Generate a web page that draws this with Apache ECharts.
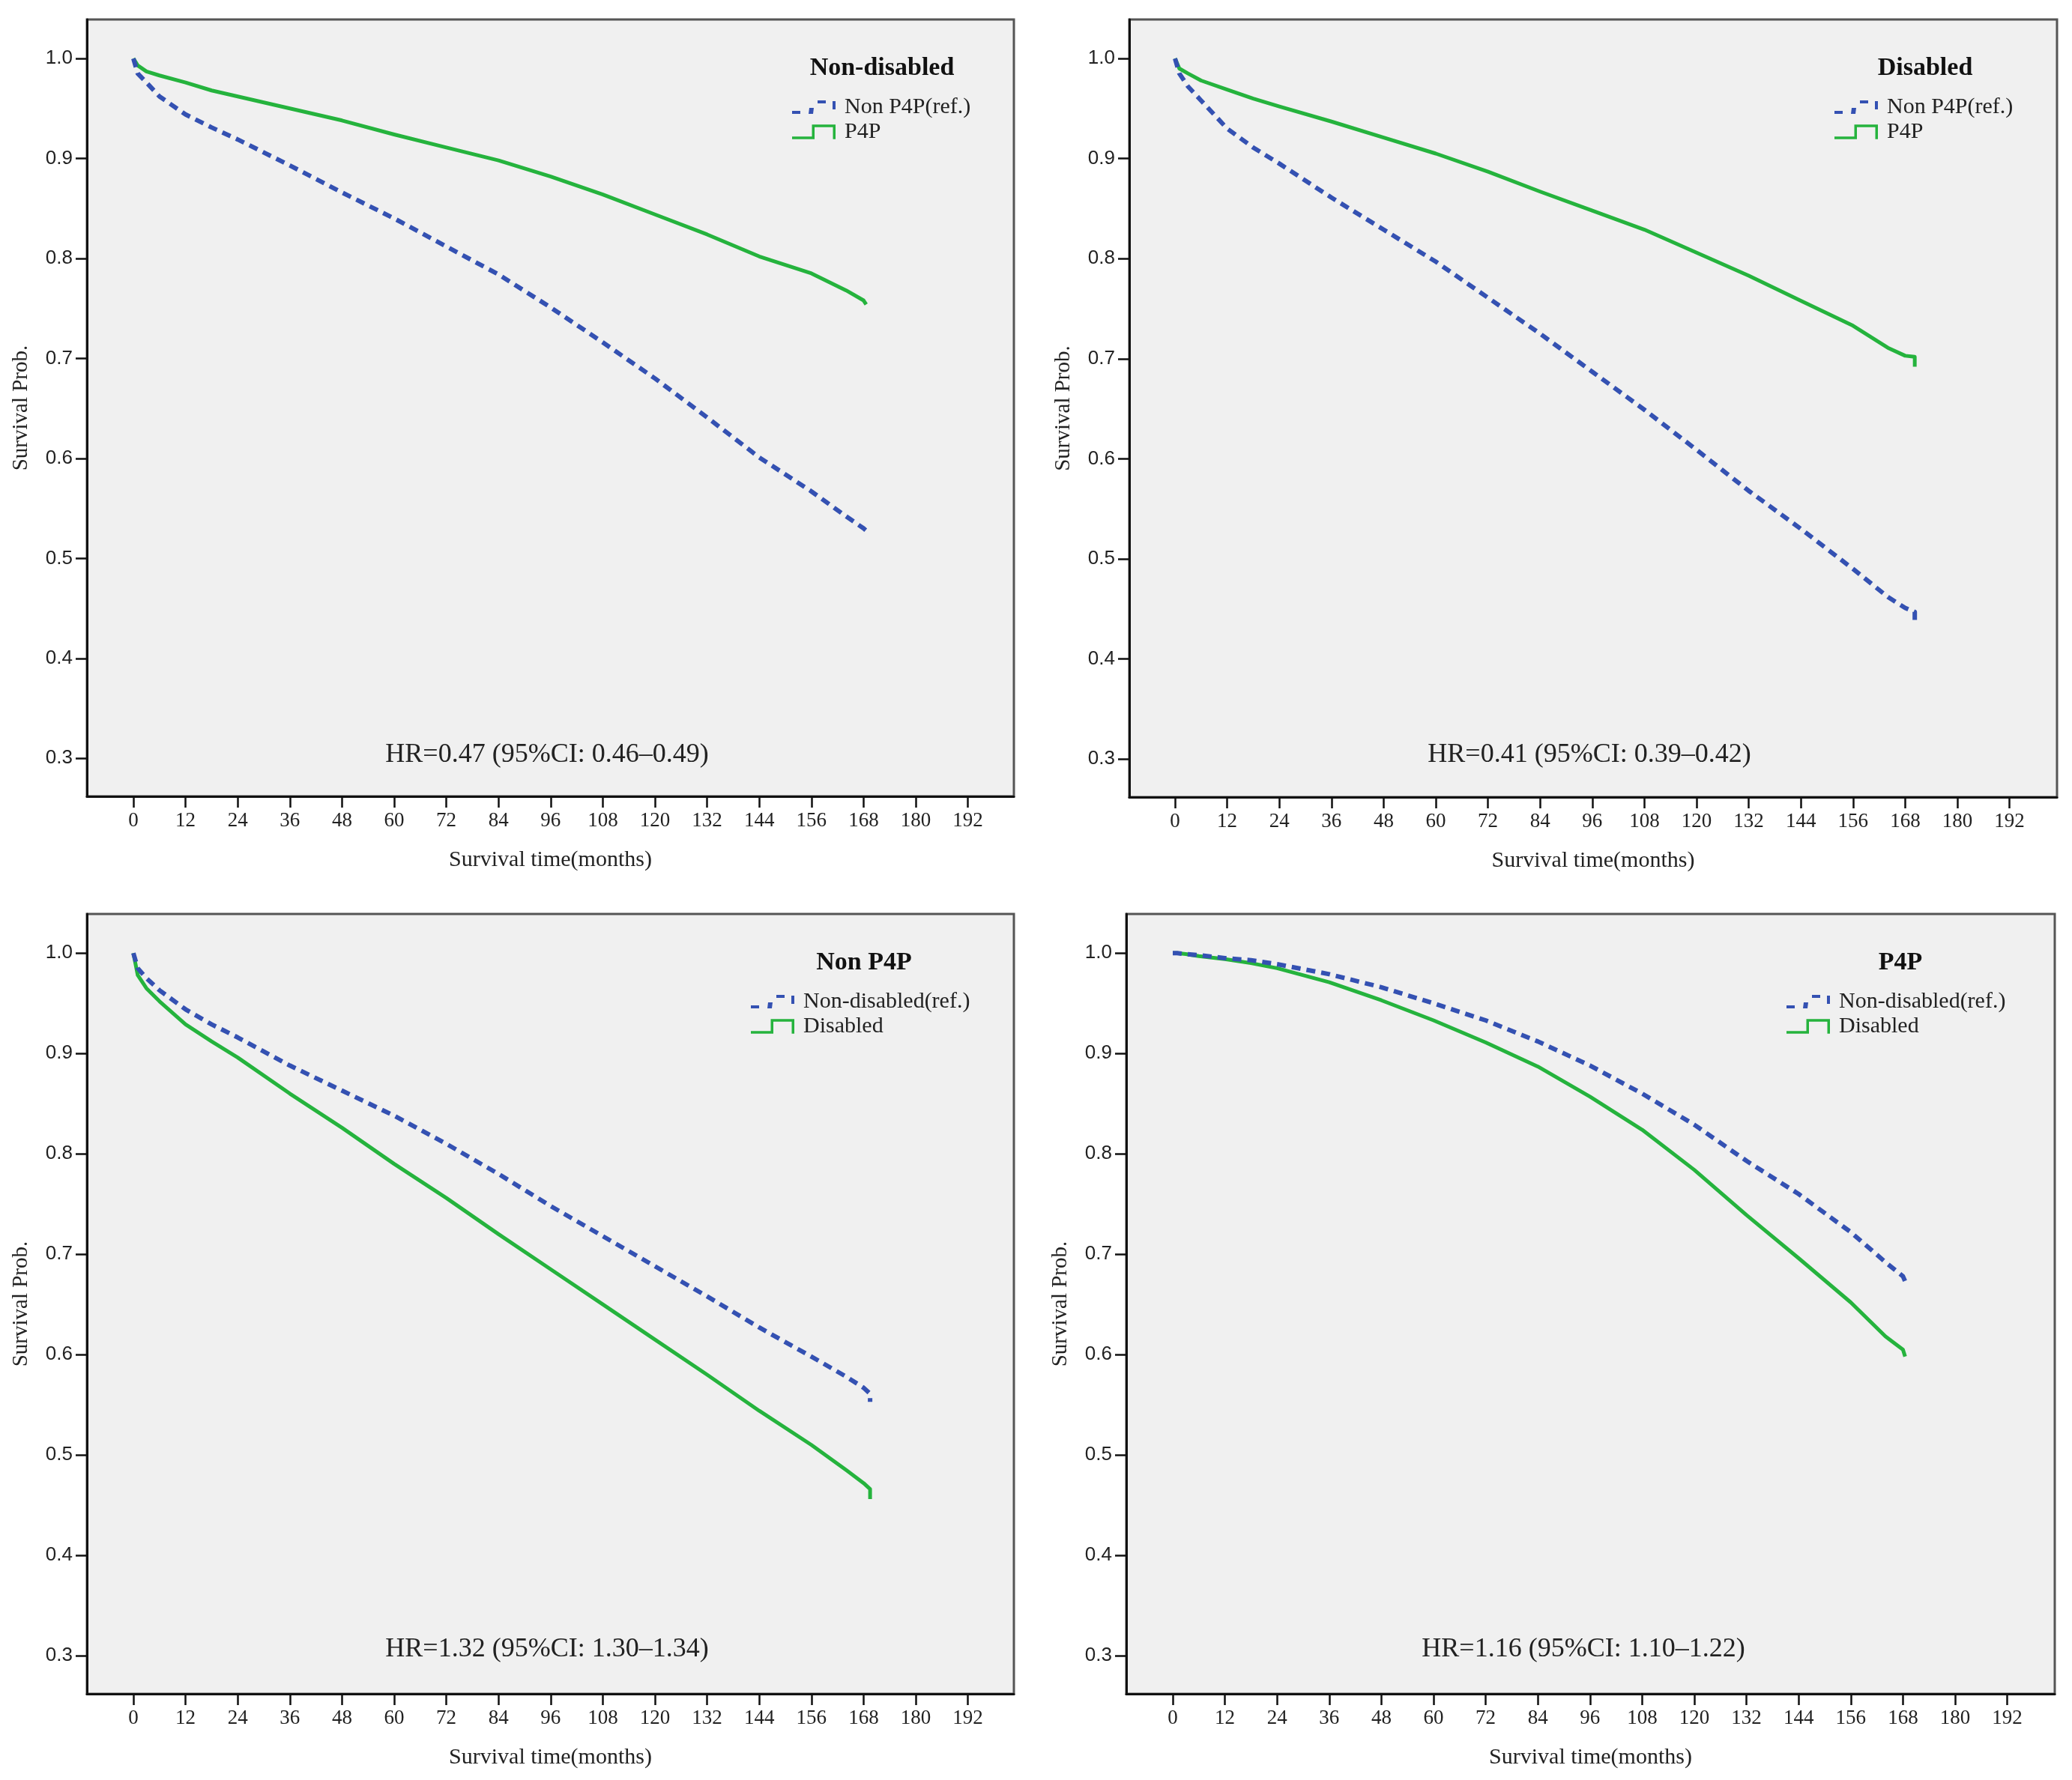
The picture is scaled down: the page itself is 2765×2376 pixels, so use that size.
<!DOCTYPE html>
<html>
<head>
<meta charset="utf-8">
<script src="https://cdn.jsdelivr.net/npm/echarts@6/dist/echarts.min.js"></script>
<style>
html,body{margin:0;padding:0;background:#fff;}
#chart{width:2765px;height:2376px;}
</style>
</head>
<body>
<div id="chart"></div>
<script>
// ---------- data ----------
const months = [0, 1, 3, 6, 12, 18, 24, 36, 48, 60, 72, 84, 96, 108, 120, 132, 144, 156, 164, 168];
const xTicks = [0, 12, 24, 36, 48, 60, 72, 84, 96, 108, 120, 132, 144, 156, 168, 180, 192];
const yTicks = [0.3, 0.4, 0.5, 0.6, 0.7, 0.8, 0.9, 1.0];

// Panel 1: Non-disabled
const nd_nonP4P = [1.0, 0.985, 0.976, 0.962, 0.944, 0.931, 0.919, 0.893, 0.866, 0.840, 0.812, 0.784, 0.751, 0.716, 0.680, 0.641, 0.601, 0.567, 0.542, 0.530];
const nd_nonP4P_tailM = [168.8];
const nd_nonP4P_tailV = [0.527];
const nd_P4P = [1.0, 0.993, 0.987, 0.983, 0.976, 0.968, 0.962, 0.950, 0.938, 0.924, 0.911, 0.898, 0.882, 0.864, 0.844, 0.824, 0.802, 0.785, 0.768, 0.758];
const nd_P4P_tailM = [168.6];
const nd_P4P_tailV = [0.754];

// Panel 2: Disabled
const d_nonP4P = [1.0, 0.985, 0.972, 0.958, 0.930, 0.911, 0.895, 0.861, 0.829, 0.797, 0.761, 0.725, 0.687, 0.649, 0.609, 0.568, 0.530, 0.490, 0.462, 0.451];
const d_nonP4P_tailM = [170.2, 170.2];
const d_nonP4P_tailV = [0.447, 0.435];
const d_P4P = [1.0, 0.990, 0.985, 0.978, 0.969, 0.960, 0.952, 0.937, 0.921, 0.905, 0.887, 0.867, 0.848, 0.829, 0.806, 0.783, 0.758, 0.733, 0.711, 0.703];
const d_P4P_tailM = [170.2, 170.2];
const d_P4P_tailV = [0.702, 0.692];

// Panel 3: Non P4P
const np_nonDis = [1.0, 0.985, 0.975, 0.963, 0.944, 0.929, 0.916, 0.888, 0.863, 0.838, 0.810, 0.780, 0.748, 0.718, 0.688, 0.658, 0.627, 0.598, 0.578, 0.567];
const np_nonDis_tailM = [169.5, 169.5];
const np_nonDis_tailV = [0.561, 0.553];
const np_dis = [1.0, 0.978, 0.965, 0.952, 0.929, 0.912, 0.896, 0.860, 0.826, 0.790, 0.756, 0.720, 0.685, 0.650, 0.615, 0.580, 0.544, 0.510, 0.485, 0.472];
const np_dis_tailM = [169.5, 169.5];
const np_dis_tailV = [0.466, 0.456];

// Panel 4: P4P
const p_nonDis = [1.0, 1.0, 0.999, 0.998, 0.995, 0.993, 0.989, 0.979, 0.966, 0.950, 0.933, 0.912, 0.888, 0.860, 0.829, 0.793, 0.760, 0.722, 0.692, 0.678];
const p_nonDis_tailM = [168.5];
const p_nonDis_tailV = [0.673];
const p_dis = [1.0, 1.0, 0.999, 0.997, 0.994, 0.990, 0.985, 0.971, 0.953, 0.933, 0.911, 0.887, 0.857, 0.824, 0.784, 0.739, 0.696, 0.652, 0.618, 0.605];
const p_dis_tailM = [168.5];
const p_dis_tailV = [0.598];

const panelTitles = ['Non-disabled', 'Disabled', 'Non P4P', 'P4P'];
const refNames = ['Non P4P(ref.)', 'Non P4P(ref.)', 'Non-disabled(ref.)', 'Non-disabled(ref.)'];
const cmpNames = ['P4P', 'P4P', 'Disabled', 'Disabled'];
const hrTexts = ['HR=0.47 (95%CI: 0.46\u20130.49)', 'HR=0.41 (95%CI: 0.39\u20130.42)',
                 'HR=1.32 (95%CI: 1.30\u20131.34)', 'HR=1.16 (95%CI: 1.10\u20131.22)'];

// ---------- build ----------
function pairs(vals, tm, tv) {
  const out = months.map((m, i) => [m, vals[i]]);
  tm.forEach((m, i) => out.push([m, tv[i]]));
  return out;
}
const refData = [
  pairs(nd_nonP4P, nd_nonP4P_tailM, nd_nonP4P_tailV),
  pairs(d_nonP4P, d_nonP4P_tailM, d_nonP4P_tailV),
  pairs(np_nonDis, np_nonDis_tailM, np_nonDis_tailV),
  pairs(p_nonDis, p_nonDis_tailM, p_nonDis_tailV)
];
const cmpData = [
  pairs(nd_P4P, nd_P4P_tailM, nd_P4P_tailV),
  pairs(d_P4P, d_P4P_tailM, d_P4P_tailV),
  pairs(np_dis, np_dis_tailM, np_dis_tailV),
  pairs(p_dis, p_dis_tailM, p_dis_tailV)
];

const BLUE = '#3451b2';
const GREEN = '#25b33d';
const SERIF = '"Liberation Serif", "DejaVu Serif", serif';
const SANS = '"Liberation Sans", "DejaVu Sans", sans-serif';

const grids = [
  {left: 116, top: 26, width: 1237, height: 1037, xmin: -10.69, legendLeft: 1057, titleX: 1177, hrX: 730},
  {left: 1507, top: 26, width: 1238, height: 1038, xmin: -10.52, legendLeft: 2448, titleX: 2569, hrX: 2121},
  {left: 116, top: 1220, width: 1237, height: 1041, xmin: -10.69, legendLeft: 1002, titleX: 1153, hrX: 730},
  {left: 1503, top: 1220, width: 1239, height: 1041, xmin: -10.69, legendLeft: 2384, titleX: 2536, hrX: 2113}
];
const PX_PER_MONTH = 5.8;
const YMIN = 0.262, YMAX = 1.039;

const blueIcon = 'path://M0,15H11V19H0Z M23,11H29L28,19H22Z M34,1H45V5H34Z M54,2H58V13H54Z';
const greenIcon = 'path://M0,16.5H26.5V0.5H58V20H54.5V4H30V20H0Z';

const option = {
  backgroundColor: '#ffffff',
  animation: false,
  grid: [], xAxis: [], yAxis: [], series: [], legend: [], title: []
};

grids.forEach((g, i) => {
  option.grid.push({
    left: g.left, top: g.top, width: g.width, height: g.height,
    show: true, backgroundColor: '#f0f0f0', borderColor: '#555', borderWidth: 3,
    containLabel: false
  });
  option.xAxis.push({
    type: 'value', gridIndex: i,
    min: g.xmin, max: g.xmin + g.width / PX_PER_MONTH,
    name: 'Survival time(months)', nameLocation: 'middle', nameGap: 70,
    nameTextStyle: {fontFamily: SERIF, fontSize: 30, color: '#222'},
    axisLine: {show: true, onZero: false, lineStyle: {color: '#111', width: 3}},
    axisTick: {show: true, length: 15, customValues: xTicks, lineStyle: {color: '#111', width: 2.5}},
    axisLabel: {customValues: xTicks, margin: 19, fontFamily: SERIF, fontSize: 27, color: '#222'},
    splitLine: {show: false}
  });
  option.yAxis.push({
    type: 'value', gridIndex: i, min: YMIN, max: YMAX,
    name: 'Survival Prob.', nameLocation: 'middle', nameGap: 73, nameRotate: 90,
    nameTextStyle: {fontFamily: SERIF, fontSize: 29, color: '#222'},
    axisLine: {show: true, onZero: false, lineStyle: {color: '#111', width: 3}},
    axisTick: {show: true, length: 15, customValues: yTicks, lineStyle: {color: '#111', width: 2.5}},
    axisLabel: {customValues: yTicks, margin: 19, fontFamily: SANS, fontSize: 26, color: '#222',
                formatter: v => v.toFixed(1)},
    splitLine: {show: false}
  });
  option.series.push({
    type: 'line', name: refNames[i], xAxisIndex: i, yAxisIndex: i,
    data: refData[i], showSymbol: false, symbol: 'none', color: BLUE,
    smooth: false, z: 3,
    lineStyle: {color: BLUE, width: 6, type: [12, 8], cap: 'butt', join: 'round'}
  });
  option.series.push({
    type: 'line', name: cmpNames[i], xAxisIndex: i, yAxisIndex: i,
    data: cmpData[i], showSymbol: false, symbol: 'none', color: GREEN,
    smooth: false, z: 2,
    lineStyle: {color: GREEN, width: 5, join: 'round'}
  });
  option.legend.push({
    orient: 'vertical', left: g.legendLeft, top: g.top + 102, padding: 0,
    itemWidth: 58, itemHeight: 20, itemGap: 3, selectedMode: false,
    itemStyle: {borderWidth: 0},
    textStyle: {fontFamily: SERIF, fontSize: 30, color: '#222', padding: [0, 0, 0, 7]},
    data: [{name: refNames[i], icon: blueIcon}, {name: cmpNames[i], icon: greenIcon}]
  });
  option.title.push({
    text: panelTitles[i], left: g.titleX, top: g.top + 65, padding: 0,
    textAlign: 'center', textVerticalAlign: 'middle',
    textStyle: {fontFamily: SERIF, fontSize: 34, fontWeight: 'bold', color: '#111'}
  });
  option.title.push({
    text: hrTexts[i], left: g.hrX, top: g.top + 982, padding: 0,
    textAlign: 'center', textVerticalAlign: 'middle',
    textStyle: {fontFamily: SERIF, fontSize: 36, fontWeight: 'normal', color: '#222'}
  });
});

const chart = echarts.init(document.getElementById('chart'), null, {renderer: 'canvas'});
chart.setOption(option);
</script>
</body>
</html>
